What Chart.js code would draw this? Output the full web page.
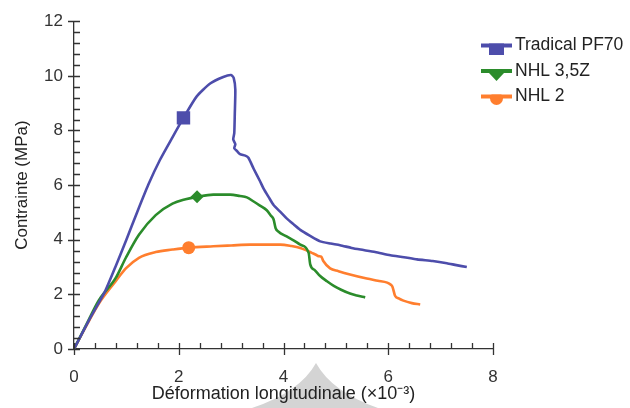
<!DOCTYPE html>
<html>
<head>
<meta charset="utf-8">
<script src="https://cdn.jsdelivr.net/npm/chart.js@4/dist/chart.umd.min.js"></script>
<style>
  body { margin: 0; background: #fff; }
  #wrap { width: 630px; height: 408px; }
</style>
</head>
<body>
<div id="wrap"><canvas id="myChart"></canvas></div>
<script>
// stress-strain curves, values (strain x10^-3, stress MPa)
const seriesNames = ['Tradical PF70', 'NHL 3,5Z', 'NHL 2'];

const tradicalX = [0, 0.3, 0.59, 0.8, 1.0, 1.2, 1.42, 1.64, 1.88, 2.09, 2.34, 2.6, 2.85, 3.0, 3.05, 3.08, 3.07, 3.06, 3.04, 3.08, 3.06, 3.11, 3.17, 3.27, 3.33, 3.43, 3.55, 3.62, 3.72, 3.81, 3.95, 4.06, 4.2, 4.32, 4.5, 4.7, 4.9, 5.08, 5.3, 5.47, 5.75, 6.04, 6.3, 6.55, 6.85, 7.12, 7.3, 7.5];
const tradicalY = [0, 1.1, 2.1, 3.05, 4.0, 4.98, 6.02, 6.92, 7.75, 8.46, 9.24, 9.72, 9.96, 10.03, 9.92, 9.5, 8.6, 7.9, 7.67, 7.5, 7.35, 7.25, 7.13, 7.08, 7.0, 6.6, 6.15, 5.87, 5.55, 5.27, 5.0, 4.78, 4.55, 4.36, 4.15, 3.94, 3.86, 3.8, 3.7, 3.64, 3.55, 3.43, 3.36, 3.28, 3.22, 3.14, 3.07, 3.0];

const nhl35X = [0, 0.25, 0.47, 0.8, 0.99, 1.24, 1.56, 1.88, 2.13, 2.35, 2.66, 2.98, 3.17, 3.3, 3.43, 3.55, 3.68, 3.76, 3.81, 3.85, 3.9, 4.06, 4.2, 4.32, 4.48, 4.51, 4.6, 4.7, 4.83, 4.96, 5.1, 5.27, 5.4, 5.56];
const nhl35Y = [0, 0.95, 1.77, 2.61, 3.34, 4.18, 4.9, 5.32, 5.48, 5.57, 5.65, 5.65, 5.6, 5.55, 5.4, 5.25, 5.08, 4.88, 4.75, 4.42, 4.3, 4.12, 3.97, 3.82, 3.52, 3.1, 2.88, 2.67, 2.48, 2.31, 2.17, 2.03, 1.96, 1.89];

const nhl2X = [0, 0.25, 0.47, 0.8, 0.99, 1.24, 1.56, 1.88, 2.19, 2.66, 3.0, 3.36, 3.94, 4.15, 4.32, 4.45, 4.54, 4.62, 4.67, 4.72, 4.76, 4.89, 5.05, 5.27, 5.59, 5.8, 5.98, 6.05, 6.08, 6.13, 6.2, 6.29, 6.45, 6.61];
const nhl2Y = [0, 0.9, 1.65, 2.49, 2.95, 3.34, 3.55, 3.64, 3.71, 3.76, 3.79, 3.82, 3.82, 3.77, 3.7, 3.6, 3.52, 3.45, 3.4, 3.38, 3.22, 2.95, 2.85, 2.73, 2.58, 2.5, 2.43, 2.35, 2.28, 1.95, 1.85, 1.77, 1.68, 1.63];

// one marker on each curve
const markerX = [2.09, 2.35, 2.19];
const markerY = [8.46, 5.57, 3.71];

const xTicks = [0, 2, 4, 6, 8];
const yTicks = [0, 2, 4, 6, 8, 10, 12];

const colors = ['#4d4dab', '#2b8c2b', '#ff7e2e'];
const markerStyles = ['rect', 'rectRot', 'circle'];
const markerSizes = [9.5, 6.5, 6.5];

function toPoints(xs, ys) {
  return xs.map((x, i) => ({ x: x, y: ys[i] }));
}

const curves = [toPoints(tradicalX, tradicalY), toPoints(nhl35X, nhl35Y), toPoints(nhl2X, nhl2Y)];

const datasets = [];
curves.forEach((pts, i) => {
  datasets.push({
    label: seriesNames[i],
    data: pts,
    borderColor: colors[i],
    borderWidth: 2.6,
    pointRadius: 0,
    // blue curve goes back on itself at the drop, so no monotone there
    tension: i === 0 ? 0.2 : 0,
    cubicInterpolationMode: i === 0 ? 'default' : 'monotone',
    fill: false,
    order: 1
  });
});
markerX.forEach((mx, i) => {
  datasets.push({
    label: seriesNames[i] + ' marker',
    data: [{ x: mx, y: markerY[i] }],
    showLine: false,
    pointStyle: markerStyles[i],
    pointRadius: markerSizes[i],
    backgroundColor: colors[i],
    borderColor: colors[i],
    borderWidth: 0,
    order: 0
  });
});

Chart.defaults.font.family = '"Liberation Sans", Arial, sans-serif';
Chart.defaults.color = '#2a2a2a';

// grey shape under the x title (from the scanned page)
const backdrop = {
  id: 'backdrop',
  beforeDraw(chart) {
    const ctx = chart.ctx;
    ctx.save();
    ctx.fillStyle = '#d4d4d4';
    ctx.beginPath();
    ctx.moveTo(316, 363);
    ctx.quadraticCurveTo(300, 392, 252, 408);
    ctx.lineTo(378, 408);
    ctx.quadraticCurveTo(332, 392, 316, 363);
    ctx.fill();
    ctx.restore();
  }
};

// major ticks cross the axis, minor ticks point inward
const axisTicks = {
  id: 'axisTicks',
  afterDraw(chart) {
    const ctx = chart.ctx;
    const xs = chart.scales.x, ys = chart.scales.y;
    const area = chart.chartArea;
    const minor = 0.4;
    ctx.save();
    ctx.strokeStyle = '#333';
    ctx.lineWidth = 1.3;
    ctx.beginPath();
    for (let v = xs.min; v <= xs.max + 1e-6; v += minor) {
      const px = Math.round(xs.getPixelForValue(v)) + 0.5;
      const major = xTicks.some(t => Math.abs(t - v) < 1e-6);
      ctx.moveTo(px, area.bottom - 6);
      ctx.lineTo(px, major ? area.bottom + 6 : area.bottom);
    }
    for (let v = ys.min; v <= ys.max + 1e-6; v += minor) {
      const py = Math.round(ys.getPixelForValue(v)) + 0.5;
      const major = yTicks.some(t => Math.abs(t - v) < 1e-6);
      ctx.moveTo(area.left + 6, py);
      ctx.lineTo(major ? area.left - 6 : area.left, py);
    }
    ctx.stroke();
    ctx.restore();
  }
};

// legend: short line with the lower half of the marker, like the original
function markerPath(ctx, style, cx, cy) {
  ctx.beginPath();
  if (style === 'rect') {
    ctx.rect(cx - 7.5, cy - 7.5, 15, 15);
  } else if (style === 'rectRot') {
    ctx.moveTo(cx, cy - 8);
    ctx.lineTo(cx + 7.5, cy);
    ctx.lineTo(cx, cy + 8);
    ctx.lineTo(cx - 7.5, cy);
    ctx.closePath();
  } else {
    ctx.arc(cx, cy, 6.5, 0, Math.PI * 2);
  }
}

const lineLegend = {
  id: 'lineLegend',
  afterDraw(chart) {
    const ctx = chart.ctx;
    const x0 = 481, x1 = 512, top = 45.5, step = 25.5;
    ctx.save();
    seriesNames.forEach((name, i) => {
      const y = top + i * step;
      const c = colors[i];
      ctx.strokeStyle = c;
      ctx.fillStyle = c;
      ctx.lineWidth = 4;
      ctx.beginPath();
      ctx.moveTo(x0, y);
      ctx.lineTo(x1, y);
      ctx.stroke();
      ctx.save();
      ctx.beginPath();
      ctx.rect(x0, y - 2, x1 - x0, 20);
      ctx.clip();
      markerPath(ctx, markerStyles[i], (x0 + x1) / 2, y + 2);
      ctx.fill();
      ctx.restore();
      ctx.fillStyle = '#222';
      ctx.font = '17.5px "Liberation Sans", Arial, sans-serif';
      ctx.textBaseline = 'middle';
      ctx.textAlign = 'left';
      ctx.fillText(name, 515, y);
    });
    ctx.restore();
  }
};

new Chart(document.getElementById('myChart'), {
  type: 'line',
  data: { datasets: datasets },
  plugins: [backdrop, axisTicks, lineLegend],
  options: {
    responsive: true,
    maintainAspectRatio: false,
    animation: false,
    layout: { padding: { top: 17, right: 137, left: 0, bottom: 0 } },
    plugins: {
      legend: { display: false },
      tooltip: { enabled: false }
    },
    scales: {
      x: {
        type: 'linear',
        min: 0,
        max: 8,
        afterBuildTicks: s => { s.ticks = xTicks.map(v => ({ value: v })); },
        afterFit: s => { s.height = 59; },
        ticks: { font: { size: 17 }, padding: 18, color: '#333' },
        grid: { display: false, drawTicks: false },
        border: { display: true, color: '#333', width: 1.3 },
        title: {
          display: true,
          text: 'Déformation longitudinale (×10⁻³)',
          font: { size: 18 },
          color: '#222',
          padding: { top: 0, bottom: 3 }
        }
      },
      y: {
        min: 0,
        max: 12,
        afterBuildTicks: s => { s.ticks = yTicks.map(v => ({ value: v })); },
        afterFit: s => { s.width = 74; },
        ticks: { font: { size: 17 }, padding: 11, color: '#333' },
        grid: { display: false, drawTicks: false },
        border: { display: true, color: '#333', width: 1.3 },
        title: {
          display: true,
          text: 'Contrainte (MPa)',
          font: { size: 17 },
          color: '#222',
          padding: { top: 12, bottom: 0 }
        }
      }
    }
  }
});
</script>
</body>
</html>
